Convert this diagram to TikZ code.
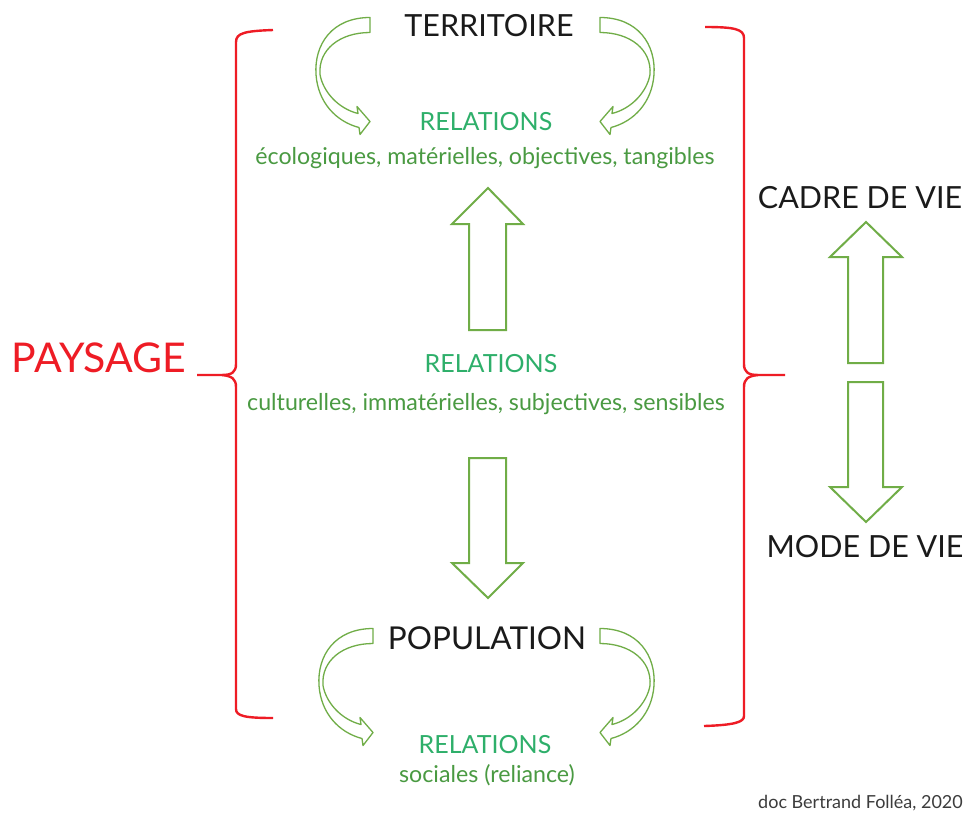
\documentclass[tikz,border=0pt]{standalone}
\usepackage{fontspec}
\setmainfont{Lato}
\definecolor{bred}{HTML}{EE1C25}
\definecolor{relgreen}{HTML}{2EAF6A}
\definecolor{descgreen}{HTML}{4A9A42}
\definecolor{arrgreen}{HTML}{70AD47}
\definecolor{dark}{HTML}{1A1A1A}
\tikzset{
  brace/.style={draw=bred, line width=2.4pt, line join=round},
  blockarrow/.style={draw=arrgreen, line width=2pt, fill=white, line join=miter},
  curvarrow/.pic={
    \draw[blockarrow, line width=1.3pt, line join=round]
      (0,-8) .. controls (-38,-8) and (-56,19) .. (-54,49)
      .. controls (-52,77) and (-34,96) .. (-11,102)
      -- (-10,109) -- (0,96) -- (-13,81) -- (-12,88)
      .. controls (-32,83) and (-47,66) .. (-50,49)
      .. controls (-52,24) and (-30,7) .. (0,7) -- cycle;
  },
  bigcap/.style={anchor=base, text=dark, font=\fontsize{30.5}{30}\selectfont, inner sep=0pt},
  reltitle/.style={anchor=base, text=relgreen, font=\fontsize{25}{25}\selectfont, inner sep=0pt},
  reldesc/.style={anchor=base, text=descgreen, font=\fontsize{23.2}{23}\selectfont, inner sep=0pt},
}
\begin{document}
\begin{tikzpicture}[x=1pt,y=-1pt]
\useasboundingbox[fill=white] (0,0) rectangle (968,814);

% braces
\draw[brace] (273,30) .. controls (245,31) and (236,33) .. (236,42) -- (236,364)
  .. controls (236,372) and (232,375) .. (222,375) -- (197,375);
\draw[brace] (222,375) .. controls (232,376) and (236,379) .. (236,387) -- (236,709)
  .. controls (236,716) and (245,718) .. (273,718);
\draw[brace] (705,27) .. controls (734,27) and (744,29) .. (744,38) -- (744,364)
  .. controls (744,372) and (748,375) .. (758,375) -- (785,375);
\draw[brace] (758,375) .. controls (748,376) and (744,379) .. (744,387) -- (744,716)
  .. controls (744,722) and (735,725) .. (704,726);

% curved arrows
\pic at (370,25.5) {curvarrow};
\pic[xscale=-1] at (600,25.5) {curvarrow};
\pic at (373,636.5) {curvarrow};
\pic[xscale=-1] at (600,636.5) {curvarrow};

% block arrows
\draw[blockarrow] (488,188) -- (523,224) -- (506,224) -- (506,330) -- (469,330) -- (469,224) -- (452,224) -- cycle;
\draw[blockarrow] (469,458) -- (506,458) -- (506,563) -- (523,563) -- (488,598) -- (452,563) -- (469,563) -- cycle;
\draw[blockarrow] (866,222) -- (902,257) -- (883,257) -- (883,363) -- (848,363) -- (848,257) -- (830,257) -- cycle;
\draw[blockarrow] (848,382) -- (883,382) -- (883,487) -- (902,487) -- (866,522) -- (830,487) -- (848,487) -- cycle;

% texts
\node[anchor=base, text=bred, font=\fontsize{41}{41}\selectfont, inner sep=0pt] (paysage) at (99,372) {PAYSAGE};
\node[bigcap] (territoire) at (489,36) {TERRITOIRE};
\node[reltitle] (rel1) at (486,130) {RELATIONS};
\node[reldesc] (desc1) at (485,164) {écologiques, matérielles, objectives, tangibles};
\node[reltitle] (rel2) at (491,372) {RELATIONS};
\node[reldesc] (desc2) at (486,410) {culturelles, immatérielles, subjectives, sensibles};
\node[bigcap, font=\fontsize{31.5}{31}\selectfont] (population) at (487,649) {POPULATION};
\node[reltitle] (rel3) at (485,753) {RELATIONS};
\node[reldesc] (desc3) at (487,782) {sociales (reliance)};
\node[bigcap] (cadre) at (860,208) {CADRE DE VIE};
\node[bigcap] (mode) at (865,557) {MODE DE VIE};
\node[anchor=base east, text=dark!85, font=\fontsize{18}{18}\selectfont, inner sep=0pt] (doc) at (963,808) {doc Bertrand Folléa, 2020};
\end{tikzpicture}
\end{document}
